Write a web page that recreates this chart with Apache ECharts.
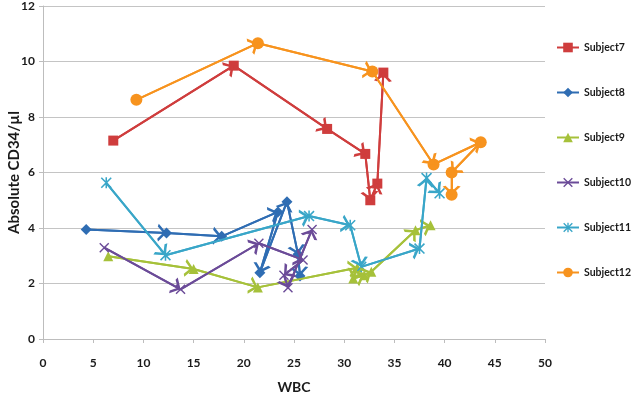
<!DOCTYPE html>
<html>
<head>
<meta charset="utf-8">
<script src="https://cdn.jsdelivr.net/npm/echarts@6/dist/echarts.min.js"></script>
<style>
    html, body { margin: 0; padding: 0; background: #fff; }
    #chart { width: 633px; height: 399px; }
</style>
</head>
<body>
<div id="chart"></div>
<script>
// ---- data (WBC on x, Absolute CD34/µl on y)
var subjectNames = ['Subject7', 'Subject8', 'Subject9', 'Subject10', 'Subject11', 'Subject12'];

var wbc7 = [7.0, 19.0, 28.3, 32.1, 32.6, 33.3, 33.9];
var cd7 = [7.15, 9.85, 7.57, 6.67, 5.0, 5.6, 9.6];

var wbc8 = [4.3, 12.3, 17.8, 23.4, 21.6, 24.3, 25.4, 25.6];
var cd8 = [3.95, 3.82, 3.7, 4.58, 2.39, 4.95, 3.05, 2.27];

var wbc9 = [6.5, 15.0, 21.4, 31.3, 30.9, 32.0, 32.7, 37.1, 38.6];
var cd9 = [2.98, 2.52, 1.86, 2.57, 2.18, 2.3, 2.42, 3.92, 4.1];

var wbc10 = [6.1, 13.7, 21.5, 25.9, 24.0, 24.4, 26.8];
var cd10 = [3.29, 1.79, 3.45, 2.85, 2.3, 1.85, 3.95];

var wbc11 = [6.3, 12.2, 26.5, 30.6, 31.7, 37.5, 38.2, 39.5];
var cd11 = [5.63, 3.02, 4.43, 4.1, 2.6, 3.26, 5.8, 5.25];

var wbc12 = [9.3, 21.4, 32.8, 38.9, 43.6, 40.7, 40.7];
var cd12 = [8.62, 10.66, 9.64, 6.29, 7.09, 6.0, 5.2];

var xTicks = [0, 5, 10, 15, 20, 25, 30, 35, 40, 45, 50];
var yTicks = [0, 2, 4, 6, 8, 10, 12];

// ---- styles
var colors = ['#cf3d3d', '#2f6db3', '#a6c13a', '#6b4b98', '#39a6c8', '#f7931e'];
var crossPath = 'path://M0,1 L1,0 L10,9 L9,10 Z M9,0 L10,1 L1,10 L0,9 Z';
var starPath = crossPath + ' M4.3,0 L5.7,0 L5.7,10 L4.3,10 Z';
var symbols = ['rect', 'diamond', 'triangle', crossPath, starPath, 'circle'];
var symbolSizes = [10, 11, 10, 10, 11, 12];
// open arrow head, tip in the middle of its box so it lands on the point
var arrowPath = 'path://M5,0 L10,9 L8.4,10 L5,3.6 L1.6,10 L0,9 Z M5,-10 L5.01,-10 L5,-9.99 Z';
var fontFam = 'Lato, "Open Sans", sans-serif';

var xsList = [wbc7, wbc8, wbc9, wbc10, wbc11, wbc12];
var ysList = [cd7, cd8, cd9, cd10, cd11, cd12];

function pairs(xs, ys) {
    var out = [];
    for (var i = 0; i < xs.length; i++) {
        out.push([xs[i], ys[i]]);
    }
    return out;
}

function segments(xs, ys) {
    var out = [];
    for (var i = 1; i < xs.length; i++) {
        out.push({ coords: [[xs[i - 1], ys[i - 1]], [xs[i], ys[i]]] });
    }
    return out;
}

var series = [];
subjectNames.forEach(function (name, k) {
    series.push({
        name: name,
        type: 'line',
        data: pairs(xsList[k], ysList[k]),
        symbol: symbols[k],
        symbolSize: symbolSizes[k],
        showAllSymbol: true,
        lineStyle: { color: colors[k], width: 2 },
        itemStyle: { color: colors[k] },
        z: 3
    });
});
// arrow heads on every segment
subjectNames.forEach(function (name, k) {
    series.push({
        name: name + ' arrows',
        type: 'lines',
        coordinateSystem: 'cartesian2d',
        data: segments(xsList[k], ysList[k]),
        symbol: ['none', arrowPath],
        symbolSize: [9, 18],
        lineStyle: { color: colors[k], width: 2, opacity: 1 },
        silent: true,
        z: 4
    });
});

var chart = echarts.init(document.getElementById('chart'));
var option = {
    animation: false,
    backgroundColor: '#ffffff',
    color: colors,
    grid: { left: 43, right: 88, top: 6, bottom: 60, containLabel: false, outerBoundsMode: 'none' },
    legend: {
        data: subjectNames,
        orient: 'vertical',
        left: 551,
        top: 37,
        itemWidth: 22,
        itemHeight: 12,
        itemGap: 34,
        textStyle: { fontFamily: fontFam, fontWeight: 'bold', fontSize: 10.5, color: '#1a1a1a' }
    },
    xAxis: {
        type: 'value',
        min: 0,
        max: 50,
        interval: 5,
        name: 'WBC',
        nameLocation: 'middle',
        nameGap: 41,
        nameMoveOverlap: false,
        nameTextStyle: { fontFamily: fontFam, fontWeight: 'bold', fontSize: 14, color: '#1a1a1a' },
        axisLine: { show: true, lineStyle: { color: '#bdbdbd' } },
        axisTick: { show: true, length: 4, lineStyle: { color: '#bdbdbd' } },
        splitLine: { show: false },
        axisLabel: { margin: 18, fontFamily: fontFam, fontWeight: 'bold', fontSize: 12, color: '#1a1a1a' }
    },
    yAxis: {
        type: 'value',
        min: 0,
        max: 12,
        interval: 2,
        name: 'Absolute CD34/\u00b5l',
        nameLocation: 'middle',
        nameGap: 21,
        nameMoveOverlap: false,
        nameTextStyle: { fontFamily: fontFam, fontWeight: 'bold', fontSize: 15, color: '#1a1a1a' },
        axisLine: { show: true, lineStyle: { color: '#bdbdbd' } },
        axisTick: { show: true, length: 4, lineStyle: { color: '#bdbdbd' } },
        splitLine: { show: true, lineStyle: { color: '#c4c4c4', width: 1 } },
        axisLabel: { margin: 8, fontFamily: fontFam, fontWeight: 'bold', fontSize: 12, color: '#1a1a1a' }
    },
    series: series
};
chart.setOption(option);
</script>
</body>
</html>
